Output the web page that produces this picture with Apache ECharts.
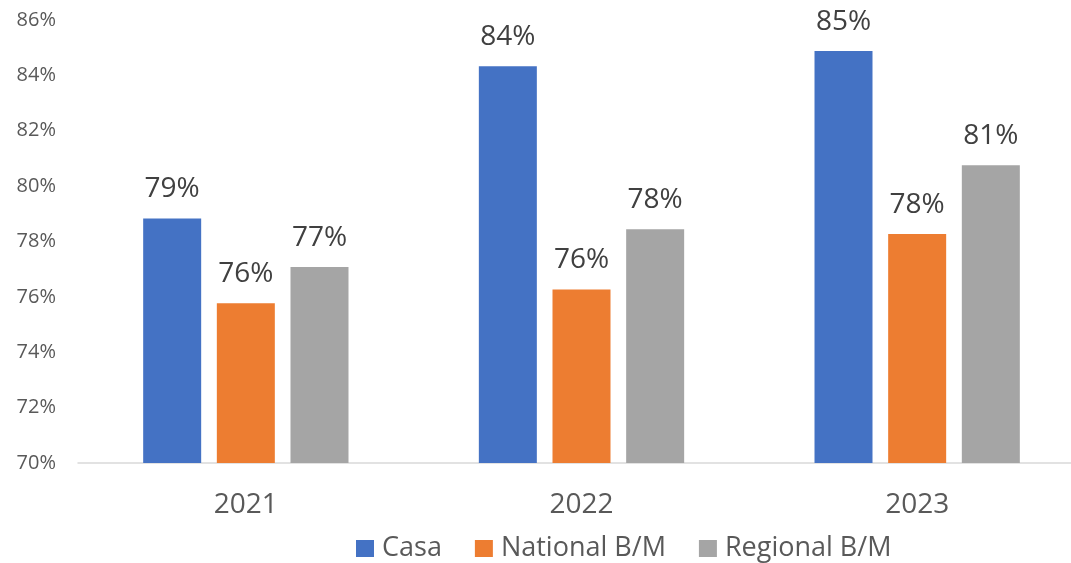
<!DOCTYPE html>
<html>
<head>
<meta charset="utf-8">
<script src="https://cdn.jsdelivr.net/npm/echarts@6/dist/echarts.min.js"></script>
<style>html,body{margin:0;padding:0;background:#fff}#c{width:1071px;height:563px}</style>
</head>
<body>
<div id="c"></div>
<script>
const categories = ['2021', '2022', '2023'];
const casa = [78.83, 84.33, 84.88];
const national = [75.77, 76.27, 78.27];
const regional = [77.08, 78.44, 80.75];
const seriesNames = ['Casa', 'National B/M', 'Regional B/M'];
const colors = ['#4472C4', '#ED7D31', '#A5A5A5'];

const FONT = '"Open Sans", sans-serif';
const chart = echarts.init(document.getElementById('c'), null, {renderer: 'canvas'});
const label = {
  show: true, position: 'top', distance: 15,
  fontFamily: FONT, fontSize: 28, color: '#404040',
  formatter: p => Math.round(p.value) + '%'
};
const mk = (name, data, i) => ({
  name, type: 'bar', data, barWidth: 58, barGap: '27%',
  itemStyle: {color: colors[i]}, label
});
chart.setOption({
  animation: false,
  textStyle: {fontFamily: FONT},
  grid: {left: 78, width: 1007, top: 20, bottom: 100, outerBoundsMode: 'none', containLabel: false},
  legend: {
    data: seriesNames, left: 351, top: 530,
    itemWidth: 18, itemHeight: 17, itemGap: 33, icon: 'rect',
    textStyle: {fontFamily: FONT, fontSize: 27, color: '#595959', padding: [0, 0, 0, 3]}
  },
  xAxis: {
    type: 'category', data: categories,
    axisLine: {lineStyle: {color: '#D9D9D9', width: 1.5}},
    axisTick: {show: false},
    axisLabel: {fontFamily: FONT, fontSize: 28, color: '#595959', margin: 28}
  },
  yAxis: {
    type: 'value', min: 70, max: 86, interval: 2,
    splitLine: {show: false},
    axisLine: {show: false}, axisTick: {show: false},
    axisLabel: {fontFamily: FONT, fontSize: 20, color: '#595959', margin: 22,
      formatter: v => v + '%'}
  },
  series: [mk(seriesNames[0], casa, 0), mk(seriesNames[1], national, 1), mk(seriesNames[2], regional, 2)]
});
</script>
</body>
</html>
